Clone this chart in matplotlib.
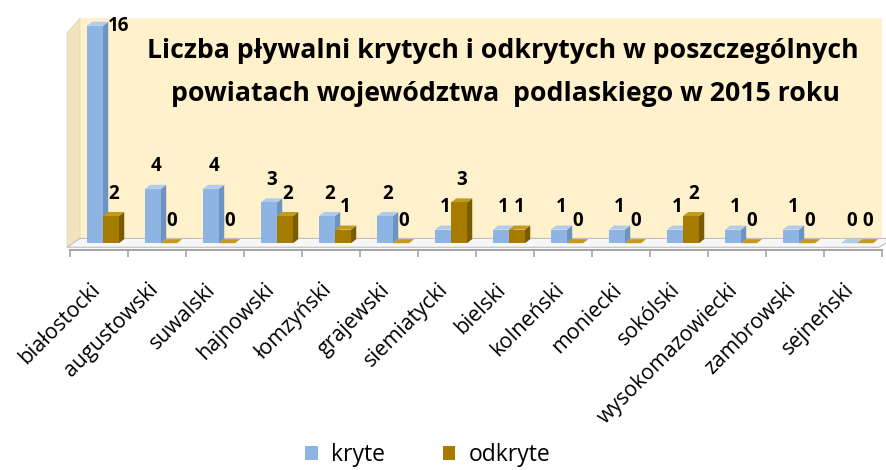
import matplotlib
matplotlib.use("Agg")
import matplotlib.pyplot as plt
from matplotlib.patches import Polygon, Rectangle, Patch

plt.rcParams['font.family'] = ['Open Sans', 'DejaVu Sans']

# data
powiaty = ['białostocki', 'augustowski', 'suwalski', 'hajnowski', 'łomzyński',
           'grajewski', 'siemiatycki', 'bielski', 'kolneński', 'moniecki',
           'sokólski', 'wysokomazowiecki', 'zambrowski', 'sejneński']
kryte = [16, 4, 4, 3, 2, 2, 1, 1, 1, 1, 1, 1, 1, 0]
odkryte = [2, 0, 0, 2, 1, 0, 3, 1, 0, 0, 2, 0, 0, 0]

title1 = 'Liczba pływalni krytych i odkrytych w poszczególnych'
title2 = 'powiatach województwa  podlaskiego w 2015 roku'

blue = ('#8DB4E2', '#6F93C0', '#B0CBEB')
gold = ('#A67C00', '#7A5B00', '#C29A1E')

fig = plt.figure(figsize=(8.86, 4.70), dpi=100)
ax = fig.add_axes([70 / 886, 220 / 470, 812 / 886, 235 / 470])
ax.set_xlim(0, 14)
ax.set_ylim(-0.5, 16.8)
for s in ['top', 'right', 'left']:
    ax.spines[s].set_visible(False)
ax.spines['bottom'].set_color('#A6A6A6')
ax.spines['bottom'].set_linewidth(1.5)
ax.set_yticks([])

dx, dy = 0.09, 0.3

# walls and floor
ax.add_patch(Rectangle((0.17, 0.35), 14, 16.2, facecolor='#FEF1CB', edgecolor='none', zorder=0))
ax.add_patch(Polygon([(-0.05, -0.3), (-0.05, 15.5), (0.17, 16.55), (0.17, 0.35)],
                     closed=True, facecolor='#F0E3BE', edgecolor='#E2D6B2', lw=0.6, zorder=0,
                     clip_on=False))
ax.add_patch(Polygon([(-0.05, -0.3), (13.95, -0.3), (14.2, 0.35), (0.17, 0.35)],
                     closed=True, facecolor='#F7F7F7', edgecolor='#BFBFBF', lw=0.8, zorder=1,
                     clip_on=False))


def bar3d(x0, w, h, cols):
    front, side, top = cols
    ax.add_patch(Polygon([(x0 + w, 0), (x0 + w + dx, dy), (x0 + w + dx, h + dy), (x0 + w, h)],
                         closed=True, facecolor=side, edgecolor='none', zorder=3))
    ax.add_patch(Polygon([(x0, h), (x0 + dx, h + dy), (x0 + w + dx, h + dy), (x0 + w, h)],
                         closed=True, facecolor=top, edgecolor='none', zorder=3))
    if h > 0:
        ax.add_patch(Rectangle((x0, 0), w, h, facecolor=front, edgecolor='none', zorder=3))


bw = 0.276
for i in range(len(powiaty)):
    xb = i + 0.293
    xo = i + 0.569
    bar3d(xb, bw, kryte[i], blue)
    bar3d(xo, bw, odkryte[i], gold)
    for x0, v in [(xb, kryte[i]), (xo, odkryte[i])]:
        if v >= 15:
            ax.annotate(str(v), (x0 + bw + dx, v), xytext=(0, -7), textcoords='offset points',
                        ha='left', va='bottom', fontsize=13.5, fontweight='bold', zorder=5,
                        annotation_clip=False)
        else:
            ax.annotate(str(v), (x0 + bw / 2 + dx / 2, v), xytext=(0, 9), textcoords='offset points',
                        ha='center', va='bottom', fontsize=13.5, fontweight='bold', zorder=5)

ax.set_xticks(range(15))
ax.tick_params(axis='x', which='major', length=5, color='#A6A6A6', width=1.2, labelbottom=False)

for i, name in enumerate(powiaty):
    ax.annotate(name, (i + 0.5, -0.5), xytext=(-7, -21), textcoords='offset points',
                rotation=45, rotation_mode='anchor', ha='right', va='top', fontsize=15.3,
                annotation_clip=False)

ax.text(7.46, 13.6, title1, ha='center', va='baseline', fontsize=19.2, fontweight='bold', zorder=6)
ax.text(7.5, 10.5, title2, ha='center', va='baseline', fontsize=19.2, fontweight='bold', zorder=6)

handles = [Patch(facecolor=blue[0], label='kryte'), Patch(facecolor=gold[0], label='odkryte')]
fig.legend(handles=handles, loc='center', bbox_to_anchor=(428 / 886, 15 / 470), ncol=2,
           frameon=False, fontsize=16.5, handlelength=0.55, handleheight=0.55,
           columnspacing=2.5, handletextpad=0.6)

fig.savefig('out.png', dpi=100)
